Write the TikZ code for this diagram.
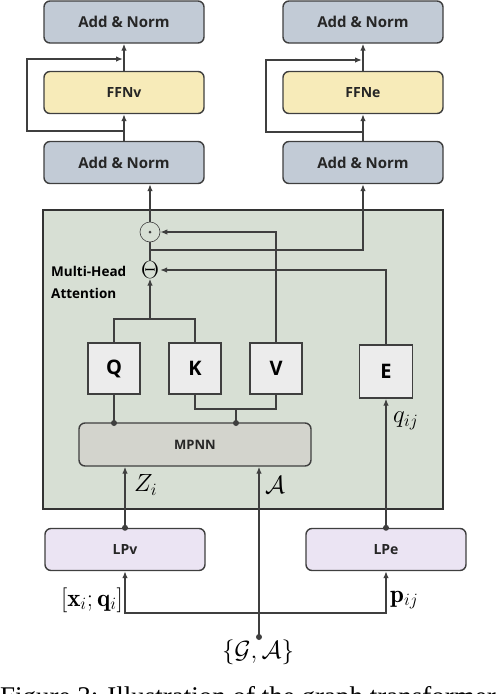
\documentclass[tikz,border=0pt]{standalone}
\usepackage{fontspec}
\usetikzlibrary{arrows.meta}
\newfontfamily\labfont{Open Sans}
\newfontfamily\capfont{Liberation Serif}
\definecolor{edge}{HTML}{3F3F3F}
\definecolor{normfill}{HTML}{C2CBD6}
\definecolor{ffnfill}{HTML}{F7EBB9}
\definecolor{greenfill}{HTML}{D7DFD4}
\definecolor{qkvfill}{HTML}{ECECEC}
\definecolor{mpnnfill}{HTML}{D3D4CD}
\definecolor{lpfill}{HTML}{EBE4F3}
\tikzset{
  blk/.style={draw=edge, line width=1.4pt, rounded corners=6pt, minimum width=160pt, minimum height=42pt, inner sep=0pt, font=\labfont\bfseries\fontsize{15}{18}\selectfont, text=black!85},
  normbox/.style={blk, fill=normfill},
  ffnbox/.style={blk, fill=ffnfill, font=\labfont\bfseries\fontsize{14}{17}\selectfont},
  lpbox/.style={blk, fill=lpfill, font=\labfont\bfseries\fontsize{14}{17}\selectfont},
  qkv/.style={draw=edge, line width=1.4pt, fill=qkvfill, minimum width=52pt, minimum height=51pt, inner sep=0pt, font=\labfont\bfseries\fontsize{20}{24}\selectfont},
  conn/.style={draw=edge, line width=1.3pt},
  arr/.style={conn, -{Latex[length=7pt,width=5.5pt]}},
  dotc/.style={circle, fill=edge, inner sep=0pt, minimum size=6pt},
  mathlab/.style={font=\fontsize{25}{30}\selectfont, inner sep=0pt},
}
\begin{document}
\begin{tikzpicture}[x=1pt,y=-1pt]
\useasboundingbox (0,0) rectangle (496,694);
% green attention box
\draw[draw=black!80, line width=2.6pt, fill=greenfill] (43,210) rectangle (443,509);

% top blocks
\node[normbox] (an1) at (124,22) {Add \& Norm};
\node[normbox] (an2) at (363,22) {Add \& Norm};
\node[ffnbox] (ffnv) at (124,92.5) {FFNv};
\node[ffnbox] (ffne) at (363,92.5) {FFNe};
\node[normbox] (an3) at (124,162.5) {Add \& Norm};
\node[normbox] (an4) at (363,162.5) {Add \& Norm};

% attention internals
\node[circle, draw=edge, line width=0.6pt, minimum size=20pt, inner sep=0pt] (odot) at (150,232) {};
\node[dotc, minimum size=3pt] at (odot) {};
\node[inner sep=0pt, font=\fontsize{26}{30}\selectfont] (theta) at (150,270) {$\Theta$};
\node[anchor=west, align=left, font=\labfont\bfseries\fontsize{13.5}{22}\selectfont, inner sep=0pt] (mha) at (51,282) {Multi-Head\\Attention};

\node[qkv] (Q) at (114,368.5) {Q};
\node[qkv] (K) at (195,368.5) {K};
\node[qkv] (V) at (276,368.5) {V};
\node[qkv, minimum width=53pt, minimum height=53pt] (E) at (386,371.5) {E};

\node[blk, fill=mpnnfill, minimum width=232pt, minimum height=43pt, font=\labfont\bfseries\fontsize{13}{16}\selectfont] (mpnn) at (195,444.5) {MPNN};

\node[lpbox] (lpv) at (125,549.5) {LPv};
\node[lpbox] (lpe) at (386,549.5) {LPe};

\coordinate (src) at (259,637);
\node[mathlab, anchor=north] (ga) at (258,640) {$\{\mathcal{G},\mathcal{A}\}$};

% FFN residual paths (left)
\draw[arr] (an3.north) -- (ffnv.south);
\draw[arr] (ffnv.north) -- (an1.south);
\draw[arr] (124,131) -- (27,131) -- (27,59) -- (123,59);
% right
\draw[arr] (an4.north) -- (ffne.south);
\draw[arr] (ffne.north) -- (an2.south);
\draw[arr] (363,132) -- (266,132) -- (266,60) -- (362,60);

% attention outputs
\draw[arr] (odot.north) -- (odot.north |- an3.south);
\draw[conn] (theta.north) -- (odot.south);
\coordinate (jn) at (150,250);
\draw[arr] (jn) -- (363,250) -- (363,250 |- an4.south);

% V -> odot, E -> theta
\draw[arr] (V.north) -- (V.north |- odot.east) -- (odot.east);
\draw[arr] (E.north) -- (E.north |- theta.east) -- ([xshift=1pt]theta.east);

% Q,K -> theta
\draw[conn] (Q.north) -- (114,319) -- (195,319) -- (K.north);
\draw[arr] (150,319) -- (theta.south);

% MPNN -> Q,K,V
\draw[conn] (K.south) -- (195,409) -- (276,409) -- (V.south);
\draw[conn] (236,409) -- (236,423);
\node[dotc] at (236,423) {};
\draw[conn] (Q.south) -- (114,423);
\node[dotc] at (114,423) {};

% LP -> MPNN / E
\node[dotc] (dv) at (lpv.north) {};
\draw[arr] (dv.center) -- (dv.center |- mpnn.south);
\node[mathlab, anchor=west] at (134,485) {$Z_i$};
\node[dotc] (de) at (lpe.north) {};
\draw[arr] (de.center) -- (E.south);
\node[mathlab, anchor=west] at (393,421) {$q_{ij}$};

% source
\node[dotc] at (src) {};
\draw[arr] (src) -- (src |- mpnn.south);
\node[mathlab, anchor=west] at (265,485) {$\mathcal{A}$};
\draw[arr] (259,613) -- (125,613) -- (lpv.south);
\draw[arr] (259,613) -- (386,613) -- (lpe.south);
\node[mathlab, anchor=east] at (123,600) {$[\mathbf{x}_i;\mathbf{q}_i]$};
\node[mathlab, anchor=west] at (390,600) {$\mathbf{p}_{ij}$};

% caption (cut off by the frame, as in the reference)
\node[anchor=base west, inner sep=0pt, font=\capfont\fontsize{27}{30}\selectfont] at (0,705) {Figure 3: Illustration of the graph transformer};
\end{tikzpicture}
\end{document}
